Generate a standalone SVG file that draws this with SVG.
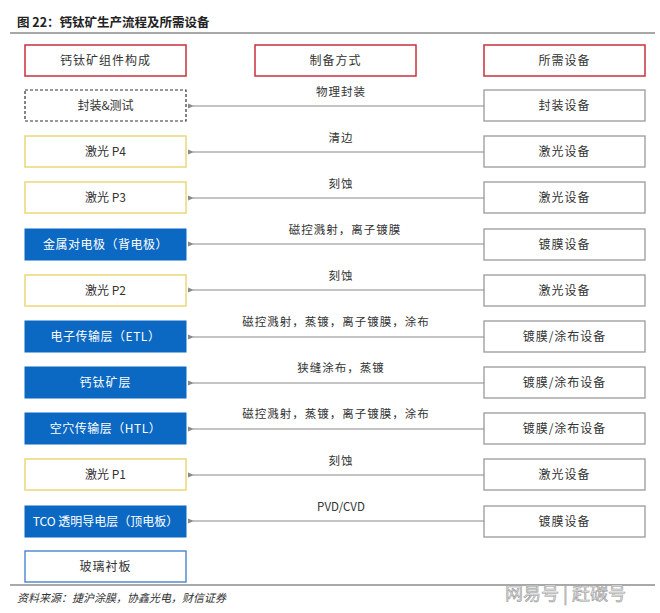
<svg xmlns="http://www.w3.org/2000/svg" width="660" height="613" viewBox="0 0 660 613">
<defs>
<marker id="ah" markerWidth="6" markerHeight="6" refX="1" refY="3" orient="auto" markerUnits="userSpaceOnUse">
<path d="M6,0.5 L0,3 L6,5.5 Z" fill="#8a8a8a"/>
</marker>
<style>
text{font-family:"Noto Sans CJK SC","Liberation Sans",sans-serif;font-size:12px;fill:#333;}
.c{text-anchor:middle;}
.w{fill:#fff;}
.hdr{fill:#fff;stroke:#c9303c;stroke-width:1.5;}
.yel{fill:#fff;stroke:#ecd77a;stroke-width:1.5;}
.blu{fill:#0b68c3;stroke:#0b68c3;}
.gry{fill:#fff;stroke:#9a9a9a;stroke-width:1.3;}
.dsh{fill:#fff;stroke:#333;stroke-width:1.2;stroke-dasharray:3,2;}
.bl{fill:#fff;stroke:#3a7cc4;stroke-width:1.3;}
.ln{stroke:#8a8a8a;stroke-width:1.2;fill:none;marker-end:url(#ah);}
.lbl{font-size:11.5px;}
</style>
</defs>
<rect width="660" height="613" fill="#fff"/>
<text x="17" y="27" style="font-size:12.5px;font-weight:bold;fill:#222;">图 22：钙钛矿生产流程及所需设备</text>
<line x1="10" y1="33" x2="655" y2="33" stroke="#8a8a8a" stroke-width="1.5"/>

<g id="h1"><rect class="hdr" x="25" y="45" width="161" height="31"/><text class="c" x="105.5" y="65" letter-spacing="1">钙钛矿组件构成</text></g>
<g id="h2"><rect class="hdr" x="255" y="45" width="161" height="31"/><text class="c" x="335.5" y="65" letter-spacing="1">制备方式</text></g>
<g id="h3"><rect class="hdr" x="484" y="45" width="161" height="31"/><text class="c" x="564.5" y="65" letter-spacing="1">所需设备</text></g>

<g id="l1"><rect class="dsh" x="25" y="90" width="161" height="31"/><text class="c" x="105.5" y="110">封装&amp;测试</text></g>
<g id="l2"><rect class="yel" x="25" y="136" width="161" height="31"/><text class="c" x="105.5" y="156">激光 P4</text></g>
<g id="l3"><rect class="yel" x="25" y="182" width="161" height="31"/><text class="c" x="105.5" y="202">激光 P3</text></g>
<g id="l4"><rect class="blu" x="25" y="229" width="161" height="31"/><text class="c w" x="105.5" y="249" letter-spacing="0.5">金属对电极（背电极）</text></g>
<g id="l5"><rect class="yel" x="25" y="275" width="161" height="31"/><text class="c" x="105.5" y="295">激光 P2</text></g>
<g id="l6"><rect class="blu" x="25" y="321" width="161" height="31"/><text class="c w" x="105.5" y="341" letter-spacing="0.5">电子传输层（ETL）</text></g>
<g id="l7"><rect class="blu" x="25" y="367" width="161" height="31"/><text class="c w" x="105.5" y="387" letter-spacing="1">钙钛矿层</text></g>
<g id="l8"><rect class="blu" x="25" y="413" width="161" height="31"/><text class="c w" x="105.5" y="433" letter-spacing="0.5">空穴传输层（HTL）</text></g>
<g id="l9"><rect class="yel" x="25" y="459" width="161" height="31"/><text class="c" x="105.5" y="479">激光 P1</text></g>
<g id="l10"><rect class="blu" x="25" y="506" width="161" height="31"/><text class="c w" x="105.5" y="526">TCO 透明导电层（顶电板）</text></g>
<g id="l11"><rect class="bl" x="25" y="551" width="161" height="31"/><text class="c" x="105.5" y="571" letter-spacing="1">玻璃衬板</text></g>

<g id="r1"><rect class="gry" x="484" y="90" width="161" height="31"/><text class="c" x="564.5" y="110" letter-spacing="1">封装设备</text></g>
<g id="r2"><rect class="gry" x="484" y="136" width="161" height="31"/><text class="c" x="564.5" y="156" letter-spacing="1">激光设备</text></g>
<g id="r3"><rect class="gry" x="484" y="182" width="161" height="31"/><text class="c" x="564.5" y="202" letter-spacing="1">激光设备</text></g>
<g id="r4"><rect class="gry" x="484" y="229" width="161" height="31"/><text class="c" x="564.5" y="249" letter-spacing="1">镀膜设备</text></g>
<g id="r5"><rect class="gry" x="484" y="275" width="161" height="31"/><text class="c" x="564.5" y="295" letter-spacing="1">激光设备</text></g>
<g id="r6"><rect class="gry" x="484" y="321" width="161" height="31"/><text class="c" x="564.5" y="341" letter-spacing="1">镀膜/涂布设备</text></g>
<g id="r7"><rect class="gry" x="484" y="367" width="161" height="31"/><text class="c" x="564.5" y="387" letter-spacing="1">镀膜/涂布设备</text></g>
<g id="r8"><rect class="gry" x="484" y="413" width="161" height="31"/><text class="c" x="564.5" y="433" letter-spacing="1">镀膜/涂布设备</text></g>
<g id="r9"><rect class="gry" x="484" y="459" width="161" height="31"/><text class="c" x="564.5" y="479" letter-spacing="1">激光设备</text></g>
<g id="r10"><rect class="gry" x="484" y="506" width="161" height="31"/><text class="c" x="564.5" y="526" letter-spacing="1">镀膜设备</text></g>

<g id="connectors">
<line class="ln" x1="484" y1="106" x2="193" y2="106"/>
<line class="ln" x1="484" y1="152" x2="193" y2="152"/>
<line class="ln" x1="484" y1="198" x2="193" y2="198"/>
<line class="ln" x1="484" y1="244" x2="193" y2="244"/>
<line class="ln" x1="484" y1="290" x2="193" y2="290"/>
<line class="ln" x1="484" y1="337" x2="193" y2="337"/>
<line class="ln" x1="484" y1="383" x2="193" y2="383"/>
<line class="ln" x1="484" y1="429" x2="193" y2="429"/>
<line class="ln" x1="484" y1="475" x2="193" y2="475"/>
<line class="ln" x1="484" y1="521" x2="193" y2="521"/>
<text class="c lbl" x="341" y="96" letter-spacing="1">物理封装</text>
<text class="c lbl" x="341" y="142" letter-spacing="1">清边</text>
<text class="c lbl" x="341" y="188" letter-spacing="1">刻蚀</text>
<text class="c lbl" x="345" y="234" letter-spacing="1">磁控溅射，离子镀膜</text>
<text class="c lbl" x="341" y="280" letter-spacing="1">刻蚀</text>
<text class="c lbl" x="336" y="326" letter-spacing="1">磁控溅射，蒸镀，离子镀膜，涂布</text>
<text class="c lbl" x="341" y="372" letter-spacing="1">狭缝涂布，蒸镀</text>
<text class="c lbl" x="336" y="418" letter-spacing="1">磁控溅射，蒸镀，离子镀膜，涂布</text>
<text class="c lbl" x="341" y="465" letter-spacing="1">刻蚀</text>
<text class="c lbl" x="341" y="511">PVD/CVD</text>
</g>

<line x1="10" y1="585" x2="655" y2="585" stroke="#555" stroke-width="1.2"/>
<text x="17" y="602" style="font-size:11px;font-style:italic;fill:#333;">资料来源：捷沪涂膜，协鑫光电，财信证券</text>
<text x="505" y="600" style="font-size:18px;fill:#e6e6e6;stroke:#9a9a9a;stroke-width:0.6;">网易号 | 赶碳号</text>
</svg>
